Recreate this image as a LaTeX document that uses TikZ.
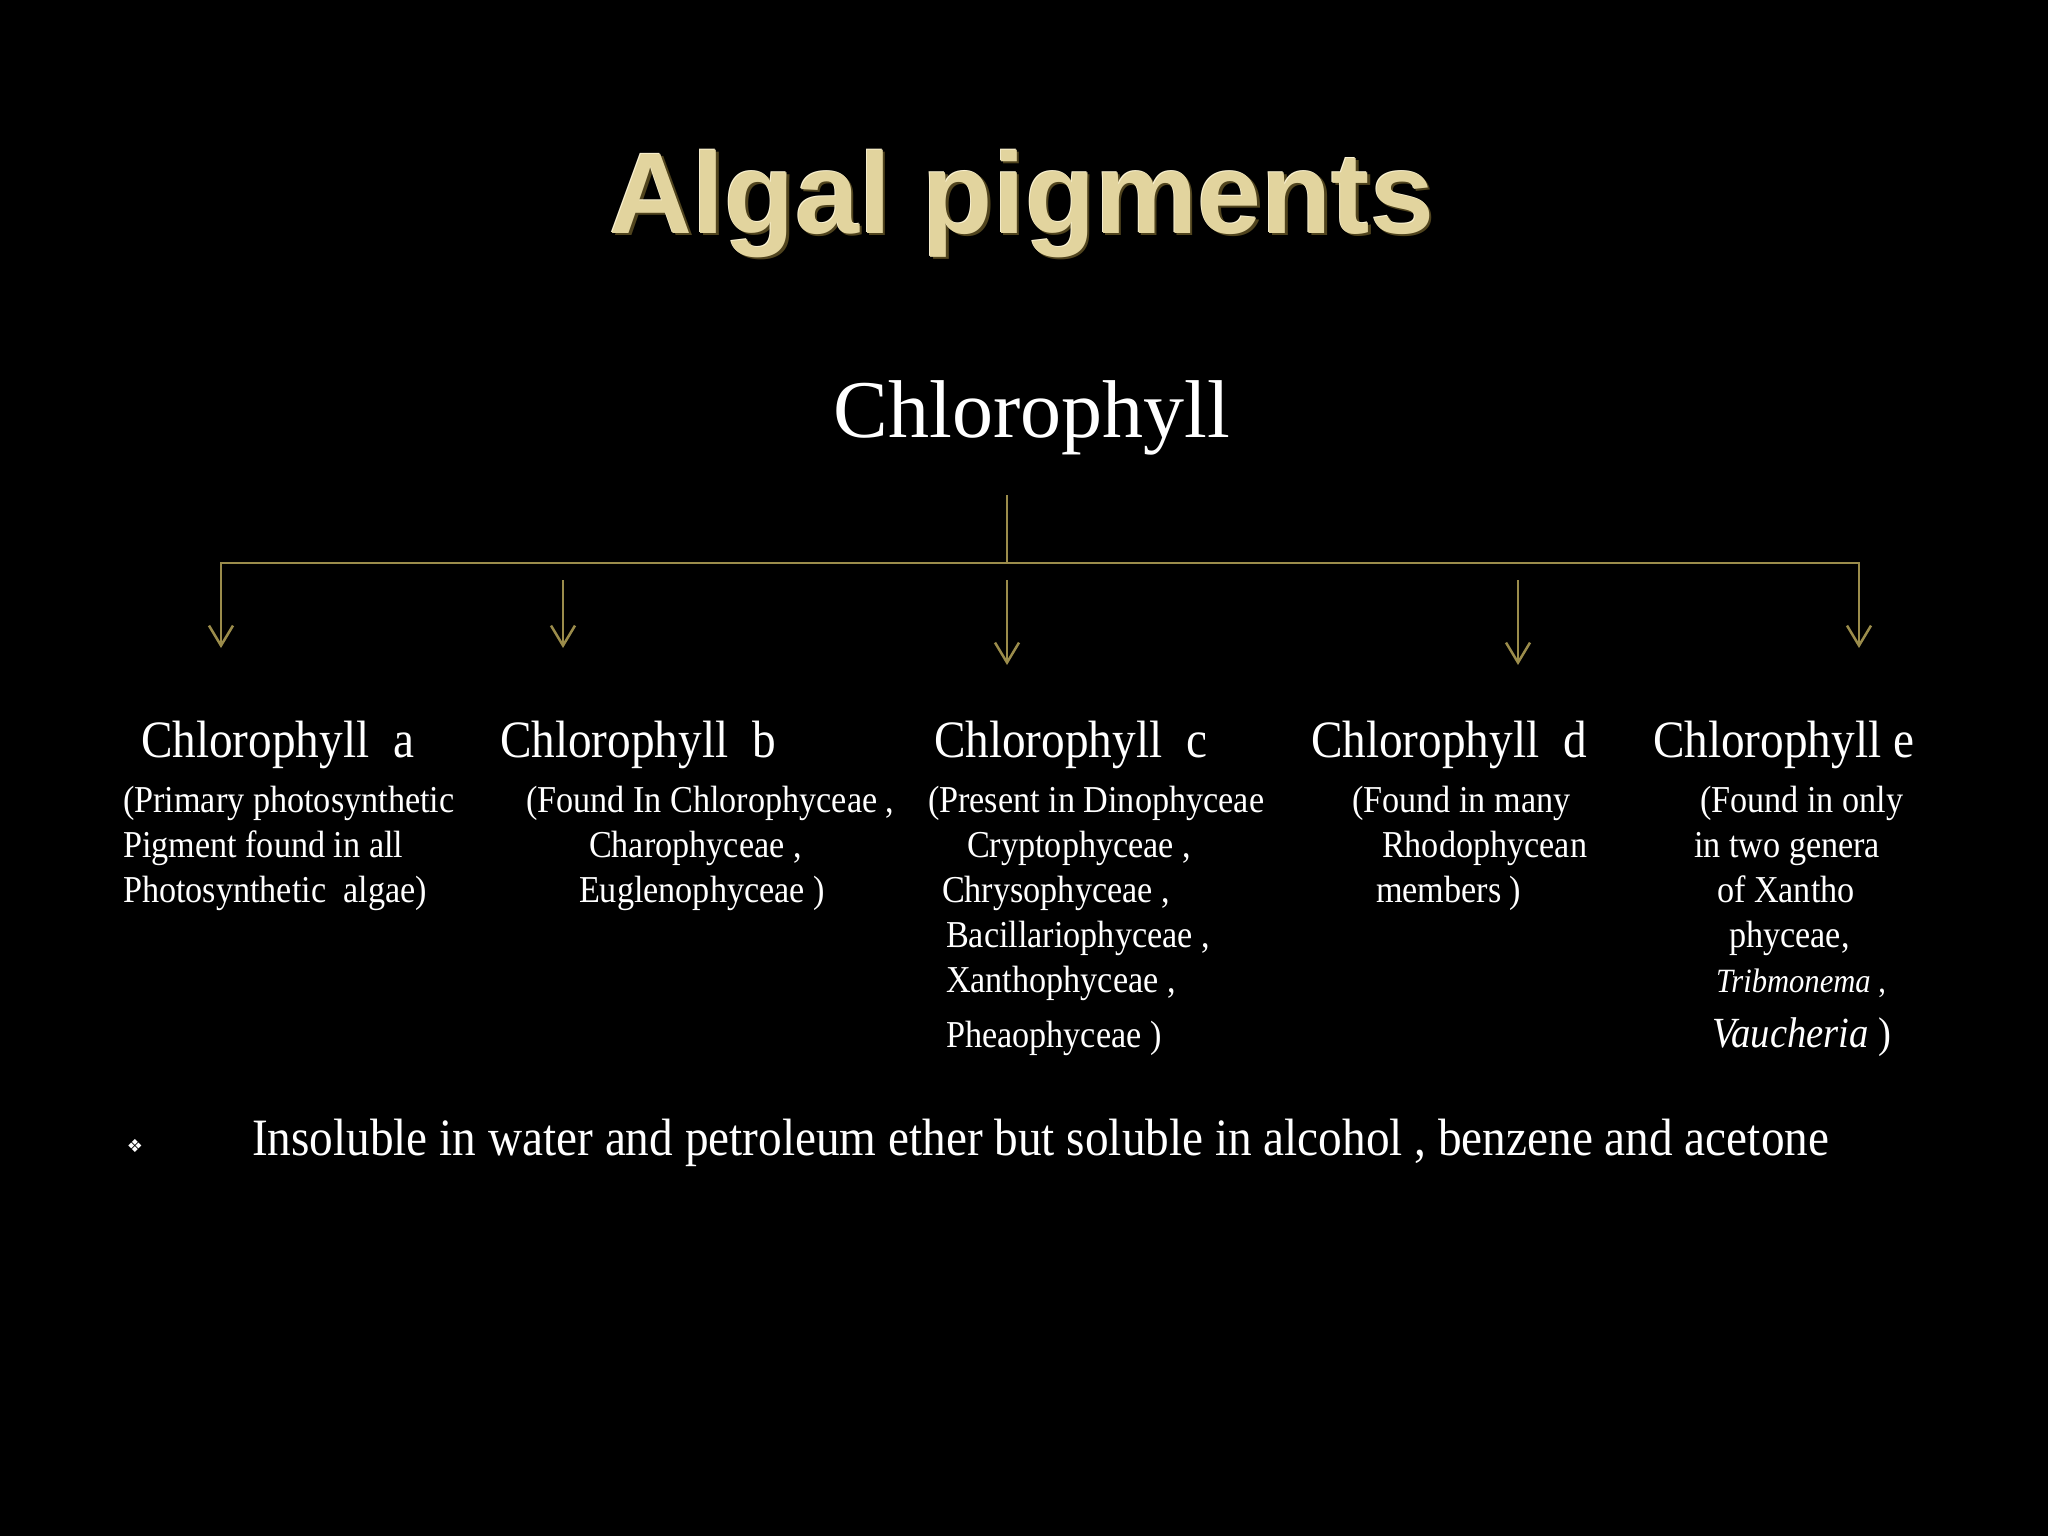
\documentclass[tikz,border=0pt]{standalone}
\usepackage{fontspec}
\setmainfont{Liberation Serif}[FakeStretch=0.9]
\newfontfamily\plainserif{Liberation Serif}
\newfontfamily\titlefont{Liberation Sans}
\newfontfamily\symfont{DejaVu Sans}
\usetikzlibrary{arrows.meta}
\definecolor{linegold}{RGB}{155,140,75}
\definecolor{titlegold}{RGB}{226,212,158}
\definecolor{titleshadow}{RGB}{80,68,30}
\definecolor{titlelight}{RGB}{250,242,210}
\tikzset{
  txt/.style={inner sep=0pt, outer sep=0pt, text=white},
  titletxt/.style={inner sep=0pt, outer sep=0pt, anchor=base, font=\titlefont\bfseries\fontsize{115}{130}\selectfont},
  bighead/.style={txt, anchor=base, font=\plainserif\fontsize{82}{96}\selectfont},
  head/.style={txt, anchor=base west, font=\fontsize{52.5}{60}\selectfont},
  desc/.style={txt, anchor=base west, font=\fontsize{38}{45}\selectfont},
  conn/.style={draw=linegold, line width=2.5pt},
  arr/.style={conn, -{Straight Barb[length=20pt,width=24pt]}},
  bothArr/.style={conn, {Straight Barb[length=20pt,width=24pt]}-{Straight Barb[length=20pt,width=24pt]}}
}
\begin{document}
\begin{tikzpicture}[x=1pt,y=-1pt]
\fill[black] (0,0) rectangle (2048,1536);
\useasboundingbox (0,0) rectangle (2048,1536);

% title with bevel effect
\node[titletxt, text=titleshadow] (titleshadow) at (1024.5,235.5) {Algal pigments};
\node[titletxt, text=titlelight] (titlelight) at (1021,232) {Algal pigments};
\node[titletxt, text=titlegold] (title) at (1022,233) {Algal pigments};

\node[bighead] (chl) at (1032,437) {Chlorophyll};

% connectors
\coordinate (top) at (1007,495);
\coordinate (jn) at (1007,563);
\coordinate (hl) at (221,563);
\coordinate (hr) at (1859,563);
\coordinate (ta) at (221,648);
\coordinate (te) at (1859,648);
\coordinate (sb) at (563,580);
\coordinate (tb) at (563,648);
\coordinate (sc) at (1007,580);
\coordinate (tc) at (1007,665);
\coordinate (sd) at (1518,580);
\coordinate (td) at (1518,665);
\draw[conn] (top) -- (jn);
\draw[bothArr] (ta) -- (hl) -- (hr) -- (te);
\draw[arr] (sb) -- (tb);
\draw[arr] (sc) -- (tc);
\draw[arr] (sd) -- (td);

% headings
\node[head] (ha) at (141,757) {Chlorophyll\ \ a};
\node[head] (hb) at (500,757) {Chlorophyll\ \ b};
\node[head] (hc) at (934,757) {Chlorophyll\ \ c};
\node[head] (hd) at (1311,757) {Chlorophyll\ \ d};
\node[head] (he) at (1653,757) {Chlorophyll e};

% column a
\node[desc] (a1) at (123,812) {(Primary photosynthetic};
\node[desc] (a2) at (123,857) {Pigment found in all};
\node[desc] (a3) at (123,902) {Photosynthetic\ \ algae)};

% column b
\node[desc] (b1) at (526,812) {(Found In Chlorophyceae ,};
\node[desc] (b2) at (589,857) {Charophyceae ,};
\node[desc] (b3) at (579,902) {Euglenophyceae )};

% column c
\node[desc] (c1) at (928,812) {(Present in Dinophyceae};
\node[desc] (c2) at (967,857) {Cryptophyceae ,};
\node[desc] (c3) at (942,902) {Chrysophyceae ,};
\node[desc] (c4) at (946,947) {Bacillariophyceae ,};
\node[desc] (c5) at (946,992) {Xanthophyceae ,};
\node[desc] (c6) at (946,1047) {Pheaophyceae )};

% column d
\node[desc] (d1) at (1352,812) {(Found in many};
\node[desc] (d2) at (1382,857) {Rhodophycean};
\node[desc] (d3) at (1376,902) {members )};

% column e
\node[desc] (e1) at (1700,812) {(Found in only};
\node[desc] (e2) at (1694,857) {in two genera};
\node[desc] (e3) at (1717,902) {of Xantho};
\node[desc] (e4) at (1729,947) {phyceae,};
\node[desc, font=\fontsize{34}{40}\selectfont] (e5) at (1716,992) {\itshape Tribmonema\upshape\ ,};
\node[desc, font=\fontsize{43}{50}\selectfont] (e6) at (1712,1047) {\itshape Vaucheria\upshape\ )};

% bottom line
\node[txt, anchor=base, font=\symfont\fontsize{18}{20}\selectfont] (bullet) at (135,1152) {❖};
\node[txt, anchor=base west, font=\fontsize{52.5}{60}\selectfont] (note) at (252,1155) {Insoluble in water and petroleum ether but soluble in alcohol , benzene and acetone};
\end{tikzpicture}
\end{document}
